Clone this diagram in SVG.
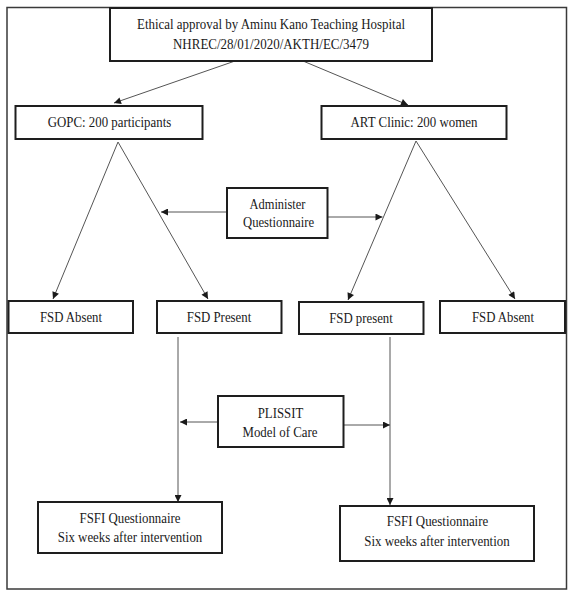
<svg xmlns="http://www.w3.org/2000/svg" width="575" height="598" viewBox="0 0 575 598">
<defs>
<marker id="ah" viewBox="0 0 10 10" refX="10" refY="5" markerWidth="8" markerHeight="7" orient="auto" markerUnits="userSpaceOnUse"><path d="M0,0 L10,5 L0,10 z" fill="#1a1a1a"/></marker>
<style>
.box{fill:#fff;stroke:#1e1e1e;stroke-width:2}
.frame{fill:none;stroke:#3a3a3a;stroke-width:1.5}
.t{font-family:"Liberation Serif","Times New Roman",serif;font-size:15px;fill:#1a1a1a;text-anchor:middle}
.c line{stroke:#555;stroke-width:1;marker-end:url(#ah)}
</style>
</defs>
<rect width="575" height="598" fill="#fff"/>
<rect class="frame" x="7" y="7.5" width="559.5" height="581.5"/>
<g id="connectors" class="c">
<line x1="235" y1="61" x2="114" y2="103"/>
<line x1="303" y1="61" x2="408" y2="105"/>
<line x1="118" y1="142" x2="53" y2="299"/>
<line x1="118" y1="142" x2="208" y2="299"/>
<line x1="416" y1="141" x2="348" y2="300"/>
<line x1="416" y1="141" x2="515" y2="299"/>
<line x1="227" y1="212" x2="161" y2="212"/>
<line x1="327.5" y1="217" x2="382.5" y2="217"/>
<line x1="178" y1="337" x2="178" y2="502"/>
<line x1="390" y1="337" x2="390" y2="505"/>
<line x1="218" y1="422" x2="180" y2="422"/>
<line x1="343.5" y1="425" x2="390" y2="425"/>
</g>
<g id="ethics">
<rect class="box" x="110" y="8" width="322" height="53"/>
<text class="t" x="271" y="29" textLength="268" lengthAdjust="spacingAndGlyphs">Ethical approval by Aminu Kano Teaching Hospital</text>
<text class="t" x="271" y="49" textLength="196" lengthAdjust="spacingAndGlyphs">NHREC/28/01/2020/AKTH/EC/3479</text>
</g>
<g id="gopc">
<rect class="box" x="15.5" y="106" width="187" height="33"/>
<text class="t" x="109.5" y="127" textLength="123.5" lengthAdjust="spacingAndGlyphs">GOPC: 200 participants</text>
</g>
<g id="art">
<rect class="box" x="321.5" y="106" width="185" height="33"/>
<text class="t" x="414" y="127" textLength="127" lengthAdjust="spacingAndGlyphs">ART Clinic: 200 women</text>
</g>
<g id="administer">
<rect class="box" x="227" y="188" width="100.5" height="50"/>
<text class="t" x="277.5" y="209" textLength="56" lengthAdjust="spacingAndGlyphs">Administer</text>
<text class="t" x="278.5" y="227" textLength="71" lengthAdjust="spacingAndGlyphs">Questionnaire</text>
</g>
<g id="fsd-absent-left">
<rect class="box" x="8.5" y="301" width="124.5" height="32"/>
<text class="t" x="71" y="322" textLength="62" lengthAdjust="spacingAndGlyphs">FSD Absent</text>
</g>
<g id="fsd-present-left">
<rect class="box" x="157" y="301" width="124.5" height="32"/>
<text class="t" x="219" y="322" textLength="64.5" lengthAdjust="spacingAndGlyphs">FSD Present</text>
</g>
<g id="fsd-present-right">
<rect class="box" x="299" y="302" width="124.5" height="32"/>
<text class="t" x="361" y="323" textLength="63.5" lengthAdjust="spacingAndGlyphs">FSD present</text>
</g>
<g id="fsd-absent-right">
<rect class="box" x="440" y="301" width="125" height="32"/>
<text class="t" x="503" y="322" textLength="62" lengthAdjust="spacingAndGlyphs">FSD Absent</text>
</g>
<g id="plissit">
<rect class="box" x="218" y="396" width="125.5" height="51"/>
<text class="t" x="280.5" y="418" textLength="45.5" lengthAdjust="spacingAndGlyphs">PLISSIT</text>
<text class="t" x="280" y="437" textLength="75" lengthAdjust="spacingAndGlyphs">Model of Care</text>
</g>
<g id="fsfi-left">
<rect class="box" x="38" y="502" width="184" height="51"/>
<text class="t" x="130" y="523" textLength="101" lengthAdjust="spacingAndGlyphs">FSFI Questionnaire</text>
<text class="t" x="130" y="542" textLength="144.5" lengthAdjust="spacingAndGlyphs">Six weeks after intervention</text>
</g>
<g id="fsfi-right">
<rect class="box" x="340" y="506" width="194" height="55"/>
<text class="t" x="437.5" y="526" textLength="101.5" lengthAdjust="spacingAndGlyphs">FSFI Questionnaire</text>
<text class="t" x="437" y="546" textLength="145.5" lengthAdjust="spacingAndGlyphs">Six weeks after intervention</text>
</g>
</svg>
